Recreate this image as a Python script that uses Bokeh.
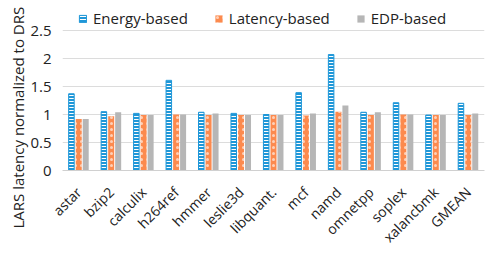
from bokeh.plotting import figure
from bokeh.models import (ColumnDataSource, FactorRange, Legend, LegendItem,
                          FixedTicker, Title)
from bokeh.transform import dodge
from bokeh.embed import file_html
from bokeh.resources import INLINE
import math

benchmarks = ["astar", "bzip2", "calculix", "h264ref", "hmmer", "leslie3d",
              "libquant.", "mcf", "namd", "omnetpp", "soplex", "xalancbmk", "GMEAN"]
energy_based = [1.37, 1.05, 1.02, 1.61, 1.04, 1.02, 1.00, 1.39, 2.07, 1.04, 1.21, 0.99, 1.20]
latency_based = [0.92, 0.97, 0.99, 1.00, 0.99, 0.99, 0.99, 0.98, 1.05, 0.99, 1.00, 0.99, 0.99]
edp_based = [0.92, 1.04, 0.99, 1.00, 1.02, 0.99, 0.99, 1.02, 1.16, 1.04, 1.00, 0.99, 1.02]
y_ticks = [0, 0.5, 1, 1.5, 2, 2.5]

BLUE = "#1f97d8"
ORANGE = "#fc8a4e"
GRAY = "#b6b6b6"
FONT = "Open Sans"

src = ColumnDataSource(dict(cat=benchmarks, energy=energy_based,
                            latency=latency_based, edp=edp_based))

# the frame reaches above the top gridline so the legend can live inside it
p = figure(width=498, height=255, x_range=FactorRange(*benchmarks),
           y_range=(0, 3.0), output_backend="svg", toolbar_location=None,
           min_border_left=62, min_border_right=14, min_border_top=2,
           min_border_bottom=85)
p.outline_line_color = None
p.background_fill_color = "white"

r_energy = p.vbar(x=dodge("cat", -0.225, range=p.x_range), top="energy", width=0.17,
                  source=src, fill_color=BLUE, line_color=BLUE, line_width=1,
                  hatch_pattern="horizontal_line", hatch_color="white",
                  hatch_scale=3, hatch_weight=1)
r_latency = p.vbar(x=dodge("cat", 0.0, range=p.x_range), top="latency", width=0.185,
                   source=src, fill_color=ORANGE, line_color=None,
                   hatch_pattern="dot", hatch_color="white", hatch_alpha=0.6,
                   hatch_scale=6, hatch_weight=1)
r_edp = p.vbar(x=dodge("cat", 0.215, range=p.x_range), top="edp", width=0.185,
               source=src, fill_color=GRAY, line_color=None)

legend = Legend(items=[LegendItem(label="Energy-based", renderers=[r_energy]),
                       LegendItem(label="Latency-based", renderers=[r_latency]),
                       LegendItem(label="EDP-based", renderers=[r_edp])],
                orientation="horizontal", location=(16, 142),
                label_text_font=FONT, label_text_font_size="15px",
                label_text_color="#222222", glyph_width=9, glyph_height=9,
                spacing=26, padding=0, margin=0, border_line_color=None,
                background_fill_alpha=0, label_standoff=6, label_height=19)
p.add_layout(legend)

p.yaxis.ticker = FixedTicker(ticks=y_ticks)
p.yaxis.axis_line_color = None
p.yaxis.major_tick_line_color = None
p.yaxis.minor_tick_line_color = None
p.yaxis.major_label_text_font = FONT
p.yaxis.major_label_text_font_size = "15px"
p.yaxis.major_label_text_color = "#222222"

# vertical axis title, placed in the left side panel
ytitle = Title(text="LARS latency normalized to DRS", align="left", offset=-58,
               text_font=FONT, text_font_size="15px", text_font_style="normal",
               text_color="#222222", standoff=0)
p.add_layout(ytitle, "left")

p.xaxis.axis_line_color = "#d0d0d0"
p.xaxis.major_tick_line_color = None
p.xaxis.minor_tick_line_color = None
p.xaxis.major_label_orientation = math.pi / 4
p.xaxis.major_label_standoff = 13
p.xaxis.major_label_text_font = FONT
p.xaxis.major_label_text_font_size = "14px"
p.xaxis.major_label_text_color = "#222222"

p.xgrid.grid_line_color = None
p.ygrid.ticker = FixedTicker(ticks=y_ticks)
p.ygrid.grid_line_color = "#dcdcdc"
p.ygrid.grid_line_width = 1

open("out.html", "w").write(file_html(p, INLINE))
